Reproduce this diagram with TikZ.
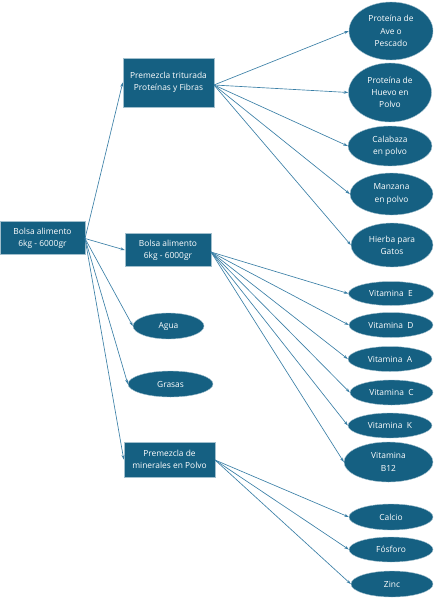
\documentclass[tikz,border=0pt]{standalone}
\usepackage{fontspec}
\setmainfont{Open Sans}
\usetikzlibrary{shapes.geometric,arrows.meta}
\definecolor{fillc}{HTML}{156082}
\definecolor{linec}{HTML}{3A7FA6}
\begin{document}
\begin{tikzpicture}[x=1pt,y=-1pt,
  box/.style={rectangle,fill=fillc,draw=fillc!40!white,line width=0.5pt,text=white,font=\fontsize{8.4}{12.3}\selectfont,align=center,inner sep=0pt},
  ell/.style={ellipse,fill=fillc,draw=fillc!40!white,line width=0.4pt,text=white,font=\fontsize{8.4}{12.3}\selectfont,align=center,inner sep=0pt},
  conn/.style={draw=linec,line width=0.65pt,-{Stealth[length=4.5pt,width=3pt]}}]
\useasboundingbox (0,0) rectangle (439,599);
% boxes
\node[box,minimum width=85pt,minimum height=33pt] (root) at (42.5,238) {Bolsa alimento\\6kg - 6000gr};
\node[box,minimum width=91pt,minimum height=49pt] (pt) at (168.5,82.5) {Premezcla triturada\\Proteínas y Fibras};
\node[box,minimum width=86pt,minimum height=33pt] (b2) at (168,250) {Bolsa alimento\\6kg - 6000gr};
\node[ell,minimum width=71pt,minimum height=26pt] (agua) at (168.5,326) {Agua};
\node[ell,minimum width=85pt,minimum height=26pt] (grasas) at (170.5,384) {Grasas};
\node[box,minimum width=91pt,minimum height=35pt] (min) at (169.5,459.5) {Premezcla de\\minerales en Polvo};
% right ellipses
\node[ell,minimum width=84pt,minimum height=58pt] (ave) at (391,31) {Proteína de\\Ave o\\Pescado};
\node[ell,minimum width=83pt,minimum height=59pt] (huevo) at (390,92.5) {Proteína de\\Huevo en\\Polvo};
\node[ell,minimum width=84pt,minimum height=40pt] (cal) at (390,146) {Calabaza\\en polvo};
\node[ell,minimum width=83pt,minimum height=42pt] (manz) at (391.5,194) {Manzana\\en polvo};
\node[ell,minimum width=82pt,minimum height=44pt] (hier) at (392,245) {Hierba para\\Gatos};
\node[ell,minimum width=85pt,minimum height=24pt] (ve) at (391,293.5) {Vitamina~ E};
\node[ell,minimum width=84pt,minimum height=25pt] (vd) at (391,325) {Vitamina~ D};
\node[ell,minimum width=84pt,minimum height=25pt] (va) at (390,359) {Vitamina~ A};
\node[ell,minimum width=83pt,minimum height=25pt] (vc) at (391.5,392.5) {Vitamina~ C};
\node[ell,minimum width=84pt,minimum height=25pt] (vk) at (390,425.5) {Vitamina~ K};
\node[ell,minimum width=89pt,minimum height=40pt] (vb) at (388.5,462) {Vitamina\\B12};
\node[ell,minimum width=84pt,minimum height=26pt] (calcio) at (391,517) {Calcio};
\node[ell,minimum width=84pt,minimum height=25pt] (fos) at (391,549.5) {Fósforo};
\node[ell,minimum width=82pt,minimum height=26pt] (zinc) at (392,584) {Zinc};
% connectors
\coordinate (rs) at (85,238.5);
\coordinate (ps) at (214,85);
\coordinate (bs) at (211,252);
\coordinate (ms) at (215,460);
\foreach \t in {pt,b2,agua,grasas,min} \draw[conn] (rs) -- (\t.west);
\foreach \t in {ave,huevo,cal,manz,hier} \draw[conn] (ps) -- (\t.west);
\foreach \t in {ve,vd,va,vc,vk,vb} \draw[conn] (bs) -- (\t.west);
\foreach \t in {calcio,fos,zinc} \draw[conn] (ms) -- (\t.west);
\end{tikzpicture}
\end{document}
